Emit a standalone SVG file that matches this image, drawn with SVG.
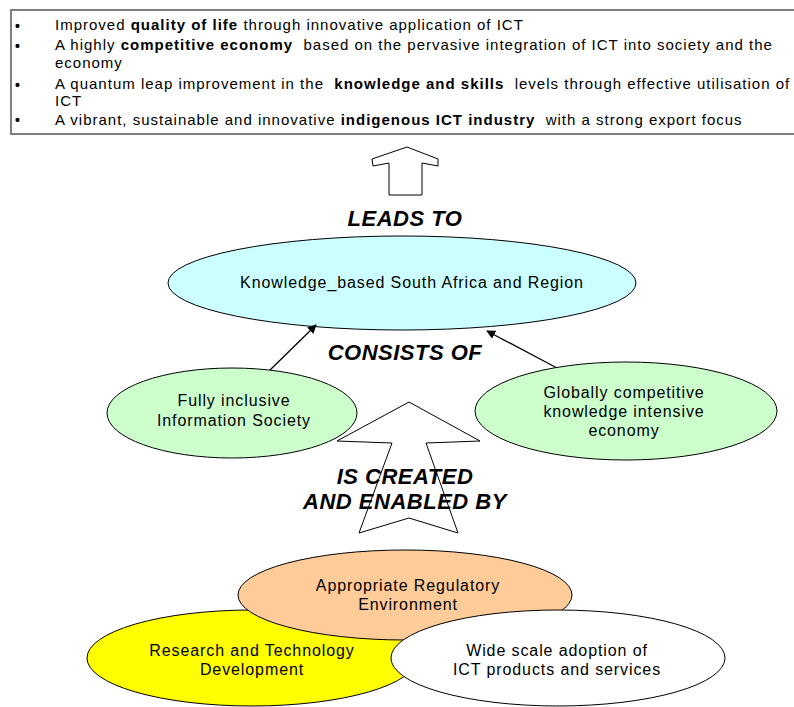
<svg xmlns="http://www.w3.org/2000/svg" width="794" height="707" viewBox="0 0 794 707">
<style>
text{font-family:"Liberation Sans",Arial,sans-serif;fill:#000}
.box{font-size:15px;letter-spacing:1px;white-space:pre}
.b{font-weight:bold}
.bul{font-size:14px;font-weight:bold}
.lbl{font-size:22px;font-weight:bold;font-style:italic;text-anchor:middle;letter-spacing:0.5px}
.nt{font-size:16px;text-anchor:middle;letter-spacing:0.9px}
.el{stroke:#000;stroke-width:1}
.conn{stroke:#000;stroke-width:1.3;fill:none}
</style>
<defs>
<marker id="ah" viewBox="0 0 10 10" refX="9" refY="5" markerWidth="9" markerHeight="9" orient="auto" markerUnits="userSpaceOnUse">
<path d="M0,0 L10,5 L0,10 z" fill="#000"/>
</marker>
</defs>
<rect width="794" height="707" fill="#fff"/>
<g id="goals">
<rect x="11" y="10" width="800" height="124" fill="#fff" stroke="#7f7f7f" stroke-width="2"/>
<text class="bul" x="15" y="31">•</text>
<text class="bul" x="15" y="51">•</text>
<text class="bul" x="15" y="90">•</text>
<text class="bul" x="15" y="125">•</text>
<text class="box" x="55" y="30">Improved <tspan class="b">quality of life</tspan> through innovative application of ICT</text>
<text class="box" x="55" y="50">A highly <tspan class="b">competitive economy</tspan>  based on the pervasive integration of ICT into society and the</text>
<text class="box" x="55" y="68">economy</text>
<text class="box" x="55" y="89">A quantum leap improvement in the  <tspan class="b">knowledge and skills</tspan>  levels through effective utilisation of</text>
<text class="box" x="55" y="106">ICT</text>
<text class="box" x="55" y="125">A vibrant, sustainable and innovative <tspan class="b">indigenous ICT industry</tspan>  with a strong export focus</text>
</g>
<g id="leads-arrow">
<polygon points="407,147 438,159 438,166 422,163 422,195 389,195 389,163 373,166 372,159" fill="#fff" stroke="#000" stroke-width="1"/>
</g>
<text class="lbl" x="405" y="226">LEADS TO</text>
<g id="knowledge-sa">
<ellipse class="el" cx="402" cy="283" rx="234" ry="47" fill="#ccffff"/>
<text class="nt" x="412" y="288">Knowledge_based South Africa and Region</text>
</g>
<g id="connectors">
<line class="conn" x1="268" y1="372" x2="316" y2="325" marker-end="url(#ah)"/>
<line class="conn" x1="557" y1="368" x2="487" y2="331" marker-end="url(#ah)"/>
</g>
<text class="lbl" x="405" y="360">CONSISTS OF</text>
<g id="info-society">
<ellipse class="el" cx="232" cy="413" rx="125" ry="45" fill="#ccffcc"/>
<text class="nt" x="234" y="406">Fully inclusive</text>
<text class="nt" x="234" y="426">Information Society</text>
</g>
<g id="knowledge-economy">
<ellipse class="el" cx="626" cy="411" rx="151" ry="49" fill="#ccffcc"/>
<text class="nt" x="624" y="398">Globally competitive</text>
<text class="nt" x="624" y="417">knowledge intensive</text>
<text class="nt" x="624" y="436">economy</text>
</g>
<g id="created-arrow">
<polygon points="409,402 480,441 426,443 458,533 409,518 359,533 392,443 337,441" fill="#fff" stroke="#000" stroke-width="1"/>
</g>
<text class="lbl" x="405" y="484">IS CREATED</text>
<text class="lbl" x="405" y="509">AND ENABLED BY</text>
<g id="research">
<ellipse class="el" cx="252" cy="658" rx="165" ry="48" fill="#ffff00"/>
<text class="nt" x="252" y="656">Research and Technology</text>
<text class="nt" x="252" y="675">Development</text>
</g>
<g id="regulatory">
<ellipse class="el" cx="405" cy="595" rx="167" ry="45" fill="#ffcc99"/>
<text class="nt" x="408" y="591">Appropriate Regulatory</text>
<text class="nt" x="408" y="610">Environment</text>
</g>
<g id="adoption">
<ellipse class="el" cx="558" cy="658" rx="167" ry="48" fill="#fff"/>
<text class="nt" x="557" y="656">Wide scale adoption of</text>
<text class="nt" x="557" y="675">ICT products and services</text>
</g>
</svg>
